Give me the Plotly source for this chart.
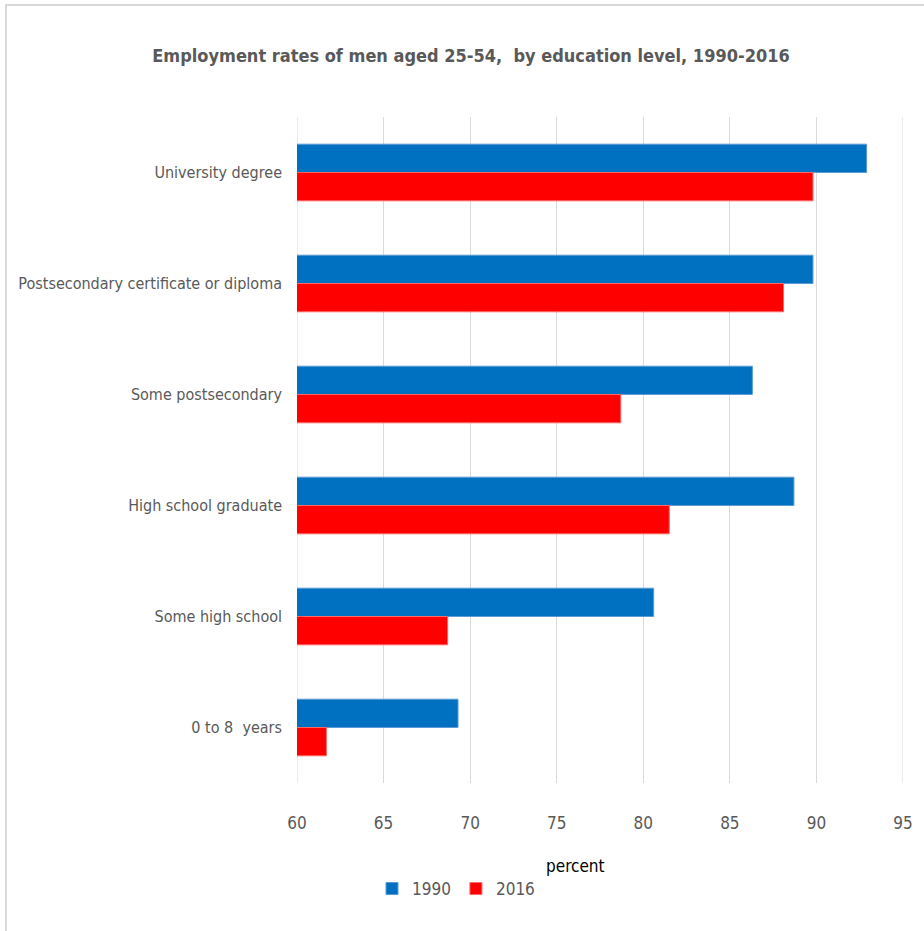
import plotly.graph_objects as go

# Employment rates of men aged 25-54, by education level (percent)
categories = [
    "University degree",
    "Postsecondary certificate or diploma",
    "Some postsecondary",
    "High school graduate",
    "Some high school",
    "0 to 8  years",
]
rates_1990 = [92.9, 89.8, 86.3, 88.7, 80.6, 69.3]
rates_2016 = [89.8, 88.1, 78.7, 81.5, 68.7, 61.7]
x_ticks = [60, 65, 70, 75, 80, 85, 90, 95]

FONT = "DejaVu Sans Condensed, Liberation Sans Narrow, sans-serif"
GREY = "#595959"
GRID = "#D9D9D9"

fig = go.Figure()
fig.add_trace(go.Bar(
    name="1990", y=categories, x=rates_1990, orientation="h",
    marker=dict(color="#0070C0", line=dict(color="#5B9BD5", width=1)),
))
fig.add_trace(go.Bar(
    name="2016", y=categories, x=rates_2016, orientation="h",
    marker=dict(color="#FF0000", line=dict(color="#FF6666", width=1)),
))

fig.update_layout(
    width=924, height=931,
    margin=dict(l=297, r=21, t=117, b=148, autoexpand=False),
    paper_bgcolor="white", plot_bgcolor="white",
    barmode="group", bargap=0.49, bargroupgap=0,
    font=dict(family=FONT, color=GREY, size=17),
    title=dict(
        text="<b>Employment rates of men aged 25-54,  by education level, 1990-2016</b>",
        x=471 / 924, xanchor="center", y=1 - 56 / 931, yanchor="middle",
        font=dict(family=FONT, size=18, color=GREY),
    ),
    xaxis=dict(
        range=[60, 95], tickvals=x_ticks, showgrid=True, gridcolor=GRID,
        gridwidth=1, zeroline=False, showline=False, ticks="",
        tickfont=dict(size=17, color=GREY), ticklabelstandoff=28,
        automargin=False,
    ),
    yaxis=dict(
        autorange="reversed", showgrid=False, showline=False, ticks="",
        tickfont=dict(size=16, color=GREY), ticklabelstandoff=14,
        automargin=False,
    ),
    legend=dict(
        orientation="h", x=(372 - 297) / 606, xanchor="left",
        y=(783 - 889) / 666, yanchor="middle",
        font=dict(size=17, color=GREY), itemwidth=30, tracegroupgap=0,
    ),
    showlegend=True,
)

# Gridlines at both ends of the value axis
for edge in (x_ticks[0], x_ticks[-1]):
    fig.add_shape(
        type="line", xref="x", yref="paper", x0=edge, x1=edge, y0=0, y1=1,
        line=dict(color=GRID, width=1), layer="below",
    )

fig.add_annotation(
    text="percent", xref="paper", yref="paper",
    x=(575 - 297) / 606, y=(783 - 866) / 666, showarrow=False,
    xanchor="center", yanchor="middle", font=dict(size=17, color="#000000"),
)

# Light chart frame
fig.add_shape(
    type="rect", xref="paper", yref="paper",
    x0=(6 - 297) / 606, x1=(935 - 297) / 606,
    y0=(783 - 940) / 666, y1=(783 - 5) / 666,
    line=dict(color=GRID, width=2), layer="below",
)

fig.write_html("out.html")
